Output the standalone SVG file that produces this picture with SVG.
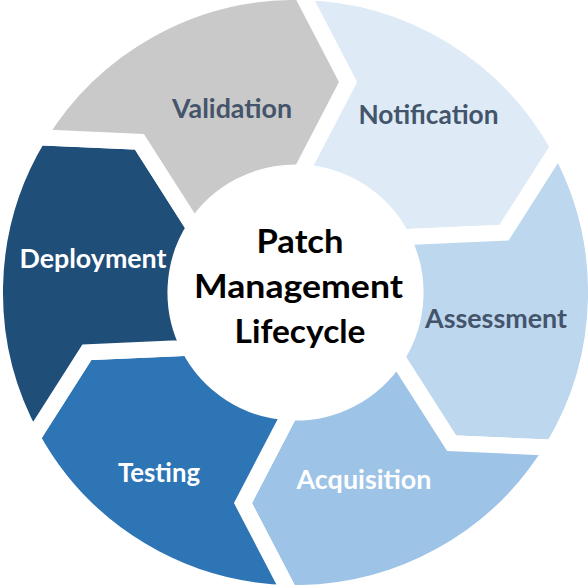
<svg xmlns="http://www.w3.org/2000/svg" xmlns:xlink="http://www.w3.org/1999/xlink" width="588" height="585" viewBox="0 0 588 585">
<style>
.seg{stroke:#ffffff;stroke-width:16;stroke-linejoin:miter;stroke-miterlimit:10}
.lbl{font-family:Lato,"Open Sans","Liberation Sans",sans-serif;font-weight:700;font-size:26px;text-anchor:middle}
.dark{fill:#44546a}
.light{fill:#ffffff}
.title{font-family:Lato,"Open Sans","Liberation Sans",sans-serif;font-weight:700;font-size:33px;fill:#000000;text-anchor:middle}
</style>
<defs>
<path id="arc" d="M5.68,-300.48 A300.5,300.5 0 0 1 263.06,-145.32 L208.6,-59.81 L106.52,-55.34 A120,120 0 0 0 5.34,-119.92 L52.5,-210.56 Z"/>
</defs>
<rect width="588" height="585" fill="#ffffff"/>
<g id="notification">
<use xlink:href="#arc" href="#arc" class="seg" fill="#deebf7" transform="translate(295.5,292.5) rotate(0)"/>
<text class="lbl dark" x="428.5" y="124" textLength="140" lengthAdjust="spacingAndGlyphs">Notification</text>
</g>
<g id="assessment">
<use xlink:href="#arc" href="#arc" class="seg" fill="#bdd7ee" transform="translate(295.5,292.5) rotate(60)"/>
<text class="lbl dark" x="496" y="328" textLength="142" lengthAdjust="spacingAndGlyphs">Assessment</text>
</g>
<g id="acquisition">
<use xlink:href="#arc" href="#arc" class="seg" fill="#9dc3e6" transform="translate(295.5,292.5) rotate(120)"/>
<text class="lbl light" x="364" y="489" textLength="135" lengthAdjust="spacingAndGlyphs">Acquisition</text>
</g>
<g id="testing">
<use xlink:href="#arc" href="#arc" class="seg" fill="#2e75b6" transform="translate(295.5,292.5) rotate(180)"/>
<text class="lbl light" x="159" y="481.5" textLength="82" lengthAdjust="spacingAndGlyphs">Testing</text>
</g>
<g id="deployment">
<use xlink:href="#arc" href="#arc" class="seg" fill="#1f4e79" transform="translate(295.5,292.5) rotate(240)"/>
<text class="lbl light" x="93" y="267.5" textLength="147" lengthAdjust="spacingAndGlyphs">Deployment</text>
</g>
<g id="validation">
<use xlink:href="#arc" href="#arc" class="seg" fill="#c9c9c9" transform="translate(295.5,292.5) rotate(300)"/>
<text class="lbl dark" x="232" y="117.5" textLength="120" lengthAdjust="spacingAndGlyphs">Validation</text>
</g>
<g id="hub">
<circle cx="295.5" cy="292.5" r="127" fill="#ffffff"/>
<text class="title" x="300" y="253" textLength="87" lengthAdjust="spacingAndGlyphs">Patch</text>
<text class="title" x="298.5" y="298" textLength="209" lengthAdjust="spacingAndGlyphs">Management</text>
<text class="title" x="300" y="343" textLength="131" lengthAdjust="spacingAndGlyphs">Lifecycle</text>
</g>
</svg>
